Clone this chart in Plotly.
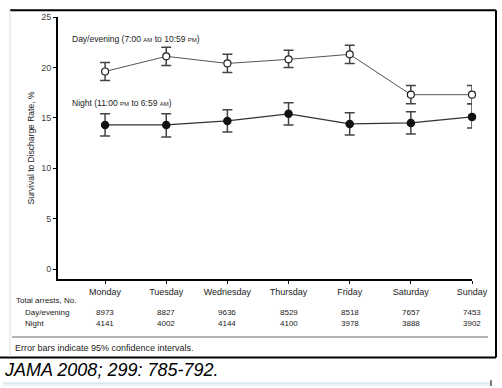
import plotly.graph_objects as go

days = ["Monday", "Tuesday", "Wednesday", "Thursday", "Friday", "Saturday", "Sunday"]
day_rate = [19.6, 21.1, 20.4, 20.8, 21.3, 17.3, 17.3]
day_lo = [18.7, 20.2, 19.5, 20.0, 20.4, 16.4, 16.4]
day_hi = [20.5, 22.0, 21.3, 21.7, 22.2, 18.2, 18.2]
night_rate = [14.3, 14.3, 14.7, 15.4, 14.4, 14.5, 15.1]
night_lo = [13.2, 13.1, 13.6, 14.3, 13.3, 13.4, 14.0]
night_hi = [15.4, 15.4, 15.8, 16.5, 15.5, 15.6, 16.4]
day_arrests = ["8973", "8827", "9636", "8529", "8518", "7657", "7453"]
night_arrests = ["4141", "4002", "4144", "4100", "3978", "3888", "3902"]
yticks = [0, 5, 10, 15, 20, 25]

W, H = 502, 388
L, R, T, B = 58, 472, 12, 279
FONT = "Liberation Sans, Arial, sans-serif"


def px(x):
    return (x - L) / (R - L)


def py(y):
    return (B - y) / (B - T)


xs = list(range(len(days)))

fig = go.Figure()
fig.add_trace(go.Scatter(
    x=xs, y=day_rate, mode="lines+markers", cliponaxis=False,
    line=dict(color="#555", width=1),
    marker=dict(symbol="circle", size=7, color="white", line=dict(color="#222", width=1.2)),
    error_y=dict(type="data", symmetric=False,
                 array=[h - v for h, v in zip(day_hi, day_rate)],
                 arrayminus=[v - l for v, l in zip(day_rate, day_lo)],
                 color="#444", thickness=1.5, width=5),
    showlegend=False, hoverinfo="skip"))
fig.add_trace(go.Scatter(
    x=xs, y=night_rate, mode="lines+markers", cliponaxis=False,
    line=dict(color="#333", width=1.2),
    marker=dict(symbol="circle", size=8.5, color="#111", line=dict(color="#111", width=0)),
    error_y=dict(type="data", symmetric=False,
                 array=[h - v for h, v in zip(night_hi, night_rate)],
                 arrayminus=[v - l for v, l in zip(night_rate, night_lo)],
                 color="#444", thickness=1.5, width=5),
    showlegend=False, hoverinfo="skip"))

sc = '<span style="font-size:6px">{}</span>'
TF = dict(family=FONT, size=8, color="#222")
annotations = [
    dict(xref="paper", yref="paper", x=px(70), y=py(34), xanchor="left", yanchor="middle",
         text="Day/evening (7:00 " + sc.format("AM") + " to 10:59 " + sc.format("PM") + ")",
         showarrow=False, font=dict(family=FONT, size=8.5, color="#222")),
    dict(xref="paper", yref="paper", x=px(70), y=py(100), xanchor="left", yanchor="middle",
         text="Night (11:00 " + sc.format("PM") + " to 6:59 " + sc.format("AM") + ")",
         showarrow=False, font=dict(family=FONT, size=8.5, color="#222")),
    dict(xref="paper", yref="paper", x=px(14), y=py(301), xanchor="left", yanchor="middle",
         text="Total arrests, No.", showarrow=False, font=TF),
    dict(xref="paper", yref="paper", x=px(23), y=py(313), xanchor="left", yanchor="middle",
         text="Day/evening", showarrow=False, font=TF),
    dict(xref="paper", yref="paper", x=px(23), y=py(324), xanchor="left", yanchor="middle",
         text="Night", showarrow=False, font=TF),
    dict(xref="paper", yref="paper", x=px(13), y=py(349), xanchor="left", yanchor="middle",
         text="Error bars indicate 95% confidence intervals.", showarrow=False,
         font=dict(family=FONT, size=9, color="#222")),
    dict(xref="paper", yref="paper", x=px(2), y=py(372), xanchor="left", yanchor="middle",
         text="<i>JAMA 2008; 299: 785-792.</i>", showarrow=False,
         font=dict(family=FONT, size=18, color="#000")),
]
for i, (a, n) in enumerate(zip(day_arrests, night_arrests)):
    annotations.append(dict(xref="x", yref="paper", x=i, y=py(313), xanchor="center", yanchor="middle",
                            text=a, showarrow=False, font=TF))
    annotations.append(dict(xref="x", yref="paper", x=i, y=py(324), xanchor="center", yanchor="middle",
                            text=n, showarrow=False, font=TF))

shapes = [
    # frame
    dict(type="line", xref="paper", yref="paper", x0=px(10), x1=px(496), y0=py(5), y1=py(5),
         line=dict(color="#000", width=2)),
    dict(type="line", xref="paper", yref="paper", x0=px(496), x1=px(496), y0=py(5), y1=py(359),
         line=dict(color="#000", width=2)),
    dict(type="line", xref="paper", yref="paper", x0=px(0), x1=px(496), y0=py(359), y1=py(359),
         line=dict(color="#000", width=2)),
    dict(type="line", xref="paper", yref="paper", x0=px(10), x1=px(10), y0=py(5), y1=py(358),
         line=dict(color="#ddd", width=1)),
    # table separator
    dict(type="line", xref="paper", yref="paper", x0=px(12), x1=px(488), y0=py(338), y1=py(338),
         line=dict(color="#999", width=1.5)),
    # bottom light band
    dict(type="rect", xref="paper", yref="paper", x0=px(3), x1=px(491), y0=py(388), y1=py(385),
         line=dict(width=0), fillcolor="#e6f2f7"),
    dict(type="line", xref="paper", yref="paper", x0=px(3), x1=px(491), y0=py(385), y1=py(385),
         line=dict(color="#c9dde6", width=1)),
    dict(type="line", xref="paper", yref="paper", x0=px(491), x1=px(491), y0=py(382), y1=py(388),
         line=dict(color="#000", width=1)),
]

fig.update_layout(
    width=W, height=H,
    margin=dict(l=L, r=W - R, t=T, b=H - B, pad=0),
    paper_bgcolor="white", plot_bgcolor="white",
    font=dict(family=FONT, size=9, color="#222"),
    annotations=annotations, shapes=shapes,
    xaxis=dict(range=[-0.77, 6], tickmode="array", tickvals=xs, ticktext=days,
               showgrid=False, zeroline=False, showline=True, linecolor="#000", linewidth=2,
               ticks="outside", ticklen=3, tickwidth=1, tickcolor="#000",
               tickfont=dict(family=FONT, size=9, color="#222"), fixedrange=True),
    yaxis=dict(range=[-0.97, 25], tickmode="array", tickvals=yticks,
               showgrid=False, zeroline=False, showline=True, linecolor="#000", linewidth=2,
               ticks="outside", ticklen=3, tickwidth=1, tickcolor="#000",
               tickfont=dict(family=FONT, size=9, color="#444"),
               title=dict(text="Survival to Discharge Rate, %", standoff=5,
                          font=dict(family=FONT, size=8.5, color="#222")),
               fixedrange=True),
)

fig.write_html("out.html", config={"displayModeBar": False},
               post_script="document.body.style.margin='0';document.body.style.overflow='hidden';")
